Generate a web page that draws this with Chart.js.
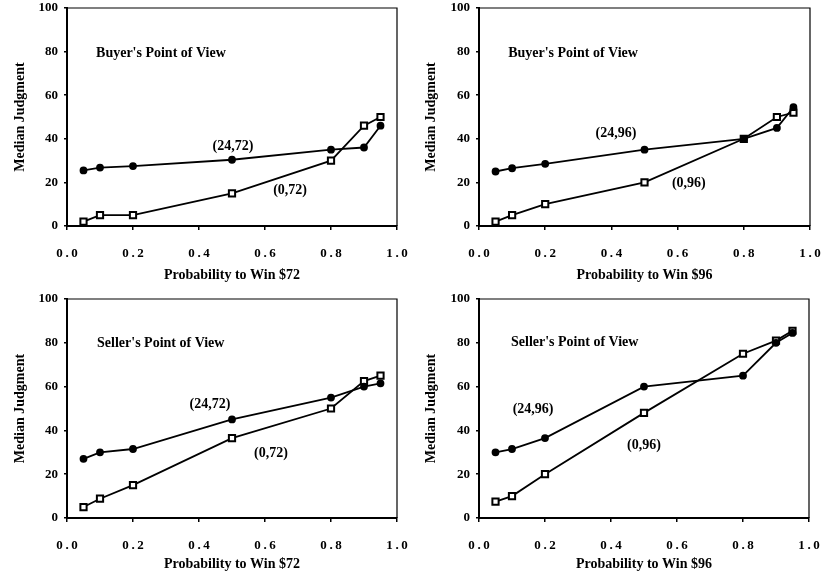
<!DOCTYPE html>
<html>
<head>
<meta charset="utf-8">
<title>Median Judgment vs Probability</title>
<script src="https://cdn.jsdelivr.net/npm/chart.js@4.4.1/dist/chart.umd.min.js"></script>
<style>
  body { margin: 0; background: #fff; }
  #wrap { position: relative; width: 822px; height: 579px; overflow: hidden; }
  .panel { position: absolute; }
</style>
</head>
<body>
<div id="wrap">
  <div class="panel" style="left:0;top:0"><canvas id="buy72" width="411" height="290"></canvas></div>
  <div class="panel" style="left:411px;top:0"><canvas id="buy96" width="411" height="290"></canvas></div>
  <div class="panel" style="left:0;top:290px"><canvas id="sell72" width="411" height="289"></canvas></div>
  <div class="panel" style="left:411px;top:290px"><canvas id="sell96" width="411" height="289"></canvas></div>
</div>
<script>
// probabilities shared by every panel
const PROBS = [0.05, 0.1, 0.2, 0.5, 0.8, 0.9, 0.95];
const X_TICKS = [0, 0.2, 0.4, 0.6, 0.8, 1.0];
const Y_TICKS = [0, 20, 40, 60, 80, 100];

// median judgments
const BUYER_72_24 = [25.5, 26.8, 27.5, 30.4, 35, 36, 46];
const BUYER_72_0 = [2, 5, 5, 15, 30, 46, 50];
const BUYER_96_24 = [25, 26.5, 28.5, 35, 40, 45, 54.5];
const BUYER_96_0 = [2, 5, 10, 20, 40, 50, 52];
const SELLER_72_24 = [27, 30, 31.5, 45, 55, 60, 61.5];
const SELLER_72_0 = [5, 8.8, 15, 36.5, 50, 62.5, 65];
const SELLER_96_24 = [30, 31.5, 36.5, 60, 65, 80, 84.5];
const SELLER_96_0 = [7.5, 10, 20, 48, 75, 81, 85.5];

(function() {
  "use strict";

  const SERIF = "'Liberation Serif', 'DejaVu Serif', serif";
  const THIN = "\u2009";

  function init() {
    makePanel({
      canvas: "buy72", height: 290,
      frame: {left: 67, right: 397, top: 8, bottom: 226},
      filled: BUYER_72_24, open: BUYER_72_0,
      xTitle: "Probability to Win $72",
      notes: [
        {text: "Buyer's Point of View", x: 0.088, y: 79, align: "left"},
        {text: "(24,72)", x: 0.503, y: 36.7, align: "center"},
        {text: "(0,72)", x: 0.676, y: 16.5, align: "center"}
      ]
    });
    makePanel({
      canvas: "buy96", height: 290,
      frame: {left: 68, right: 399, top: 8, bottom: 226},
      filled: BUYER_96_24, open: BUYER_96_0,
      xTitle: "Probability to Win $96",
      notes: [
        {text: "Buyer's Point of View", x: 0.088, y: 79, align: "left"},
        {text: "(24,96)", x: 0.414, y: 42.7, align: "center"},
        {text: "(0,96)", x: 0.634, y: 19.7, align: "center"}
      ]
    });
    makePanel({
      canvas: "sell72", height: 289,
      frame: {left: 67, right: 397, top: 9, bottom: 228},
      filled: SELLER_72_24, open: SELLER_72_0,
      xTitle: "Probability to Win $72",
      notes: [
        {text: "Seller's Point of View", x: 0.091, y: 79.9, align: "left"},
        {text: "(24,72)", x: 0.433, y: 52, align: "center"},
        {text: "(0,72)", x: 0.618, y: 29.7, align: "center"}
      ]
    });
    makePanel({
      canvas: "sell96", height: 289,
      frame: {left: 68, right: 398, top: 9, bottom: 228},
      filled: SELLER_96_24, open: SELLER_96_0,
      xTitle: "Probability to Win $96",
      notes: [
        {text: "Seller's Point of View", x: 0.097, y: 80, align: "left"},
        {text: "(24,96)", x: 0.164, y: 49.8, align: "center"},
        {text: "(0,96)", x: 0.5, y: 33.3, align: "center"}
      ]
    });
  }

  /**
   * Pair the probabilities with one series of judgments.
   */
  function points(values) {
    return PROBS.map((p, i) => ({x: p, y: values[i]}));
  }

  // thin line along the top and right of the plot, plus the in-plot texts
  const framePlugin = {
    id: "frameAndNotes",
    afterDatasetsDraw(chart, args, opts) {
      let ctx = chart.ctx;
      let area = chart.chartArea;
      ctx.save();
      ctx.strokeStyle = "#000";
      ctx.lineWidth = 1.2;
      ctx.beginPath();
      ctx.moveTo(area.left, area.top);
      ctx.lineTo(area.right, area.top);
      ctx.lineTo(area.right, area.bottom);
      ctx.stroke();

      ctx.fillStyle = "#000";
      ctx.font = "bold 14px " + SERIF;
      ctx.textBaseline = "middle";
      opts.notes.forEach(note => {
        ctx.textAlign = note.align;
        ctx.fillText(note.text, chart.scales.x.getPixelForValue(note.x),
          chart.scales.y.getPixelForValue(note.y));
      });
      ctx.restore();
    }
  };

  function makePanel(panel) {
    let width = 411;
    let axisFont = {family: SERIF, size: 13, weight: "bold"};
    let titleFont = {family: SERIF, size: 14, weight: "bold"};

    let config = {
      type: "line",
      data: {
        datasets: [{
          data: points(panel.filled),
          borderColor: "#000",
          borderWidth: 1.8,
          pointStyle: "circle",
          pointRadius: 3,
          pointBackgroundColor: "#000",
          pointBorderColor: "#000",
          tension: 0
        }, {
          data: points(panel.open),
          borderColor: "#000",
          borderWidth: 1.8,
          pointStyle: "rect",
          pointRadius: 4.4,
          pointBorderWidth: 2,
          pointBackgroundColor: "#fff",
          pointBorderColor: "#000",
          tension: 0
        }]
      },
      options: {
        responsive: false,
        animation: false,
        events: [],
        layout: {
          padding: {left: 0, top: panel.frame.top, right: width - panel.frame.right, bottom: 0}
        },
        plugins: {
          legend: {display: false},
          tooltip: {enabled: false},
          frameAndNotes: {notes: panel.notes}
        },
        scales: {
          x: {
            type: "linear",
            min: 0,
            max: 1,
            afterFit: scale => {
              scale.height = panel.height - panel.frame.bottom;
              scale.paddingLeft = 0;
              scale.paddingRight = 0;
            },
            afterBuildTicks: scale => { scale.ticks = X_TICKS.map(v => ({value: v})); },
            border: {display: true, color: "#000", width: 2},
            grid: {display: true, drawOnChartArea: false, drawTicks: true, tickLength: 4,
              color: "#000", lineWidth: 1.5},
            ticks: {
              color: "#000",
              font: axisFont,
              padding: 16,
              maxRotation: 0,
              autoSkip: false,
              callback: v => v.toFixed(1).split("").join(THIN)
            },
            title: {display: true, text: panel.xTitle, color: "#000", font: titleFont,
              padding: {top: 0, bottom: 6}}
          },
          y: {
            min: 0,
            max: 100,
            afterFit: scale => {
              scale.width = panel.frame.left;
              scale.paddingTop = 0;
              scale.paddingBottom = 0;
            },
            afterBuildTicks: scale => { scale.ticks = Y_TICKS.map(v => ({value: v})); },
            border: {display: true, color: "#000", width: 2},
            grid: {display: true, drawOnChartArea: false, drawTicks: true, tickLength: 3,
              color: "#000", lineWidth: 1.5},
            ticks: {color: "#000", font: axisFont, padding: 6},
            title: {display: true, text: "Median Judgment", color: "#000", font: titleFont,
              padding: {top: 11.6, bottom: 0}}
          }
        }
      },
      plugins: [framePlugin]
    };
    new Chart(document.getElementById(panel.canvas), config);
  }

  init();
})();
</script>
</body>
</html>
